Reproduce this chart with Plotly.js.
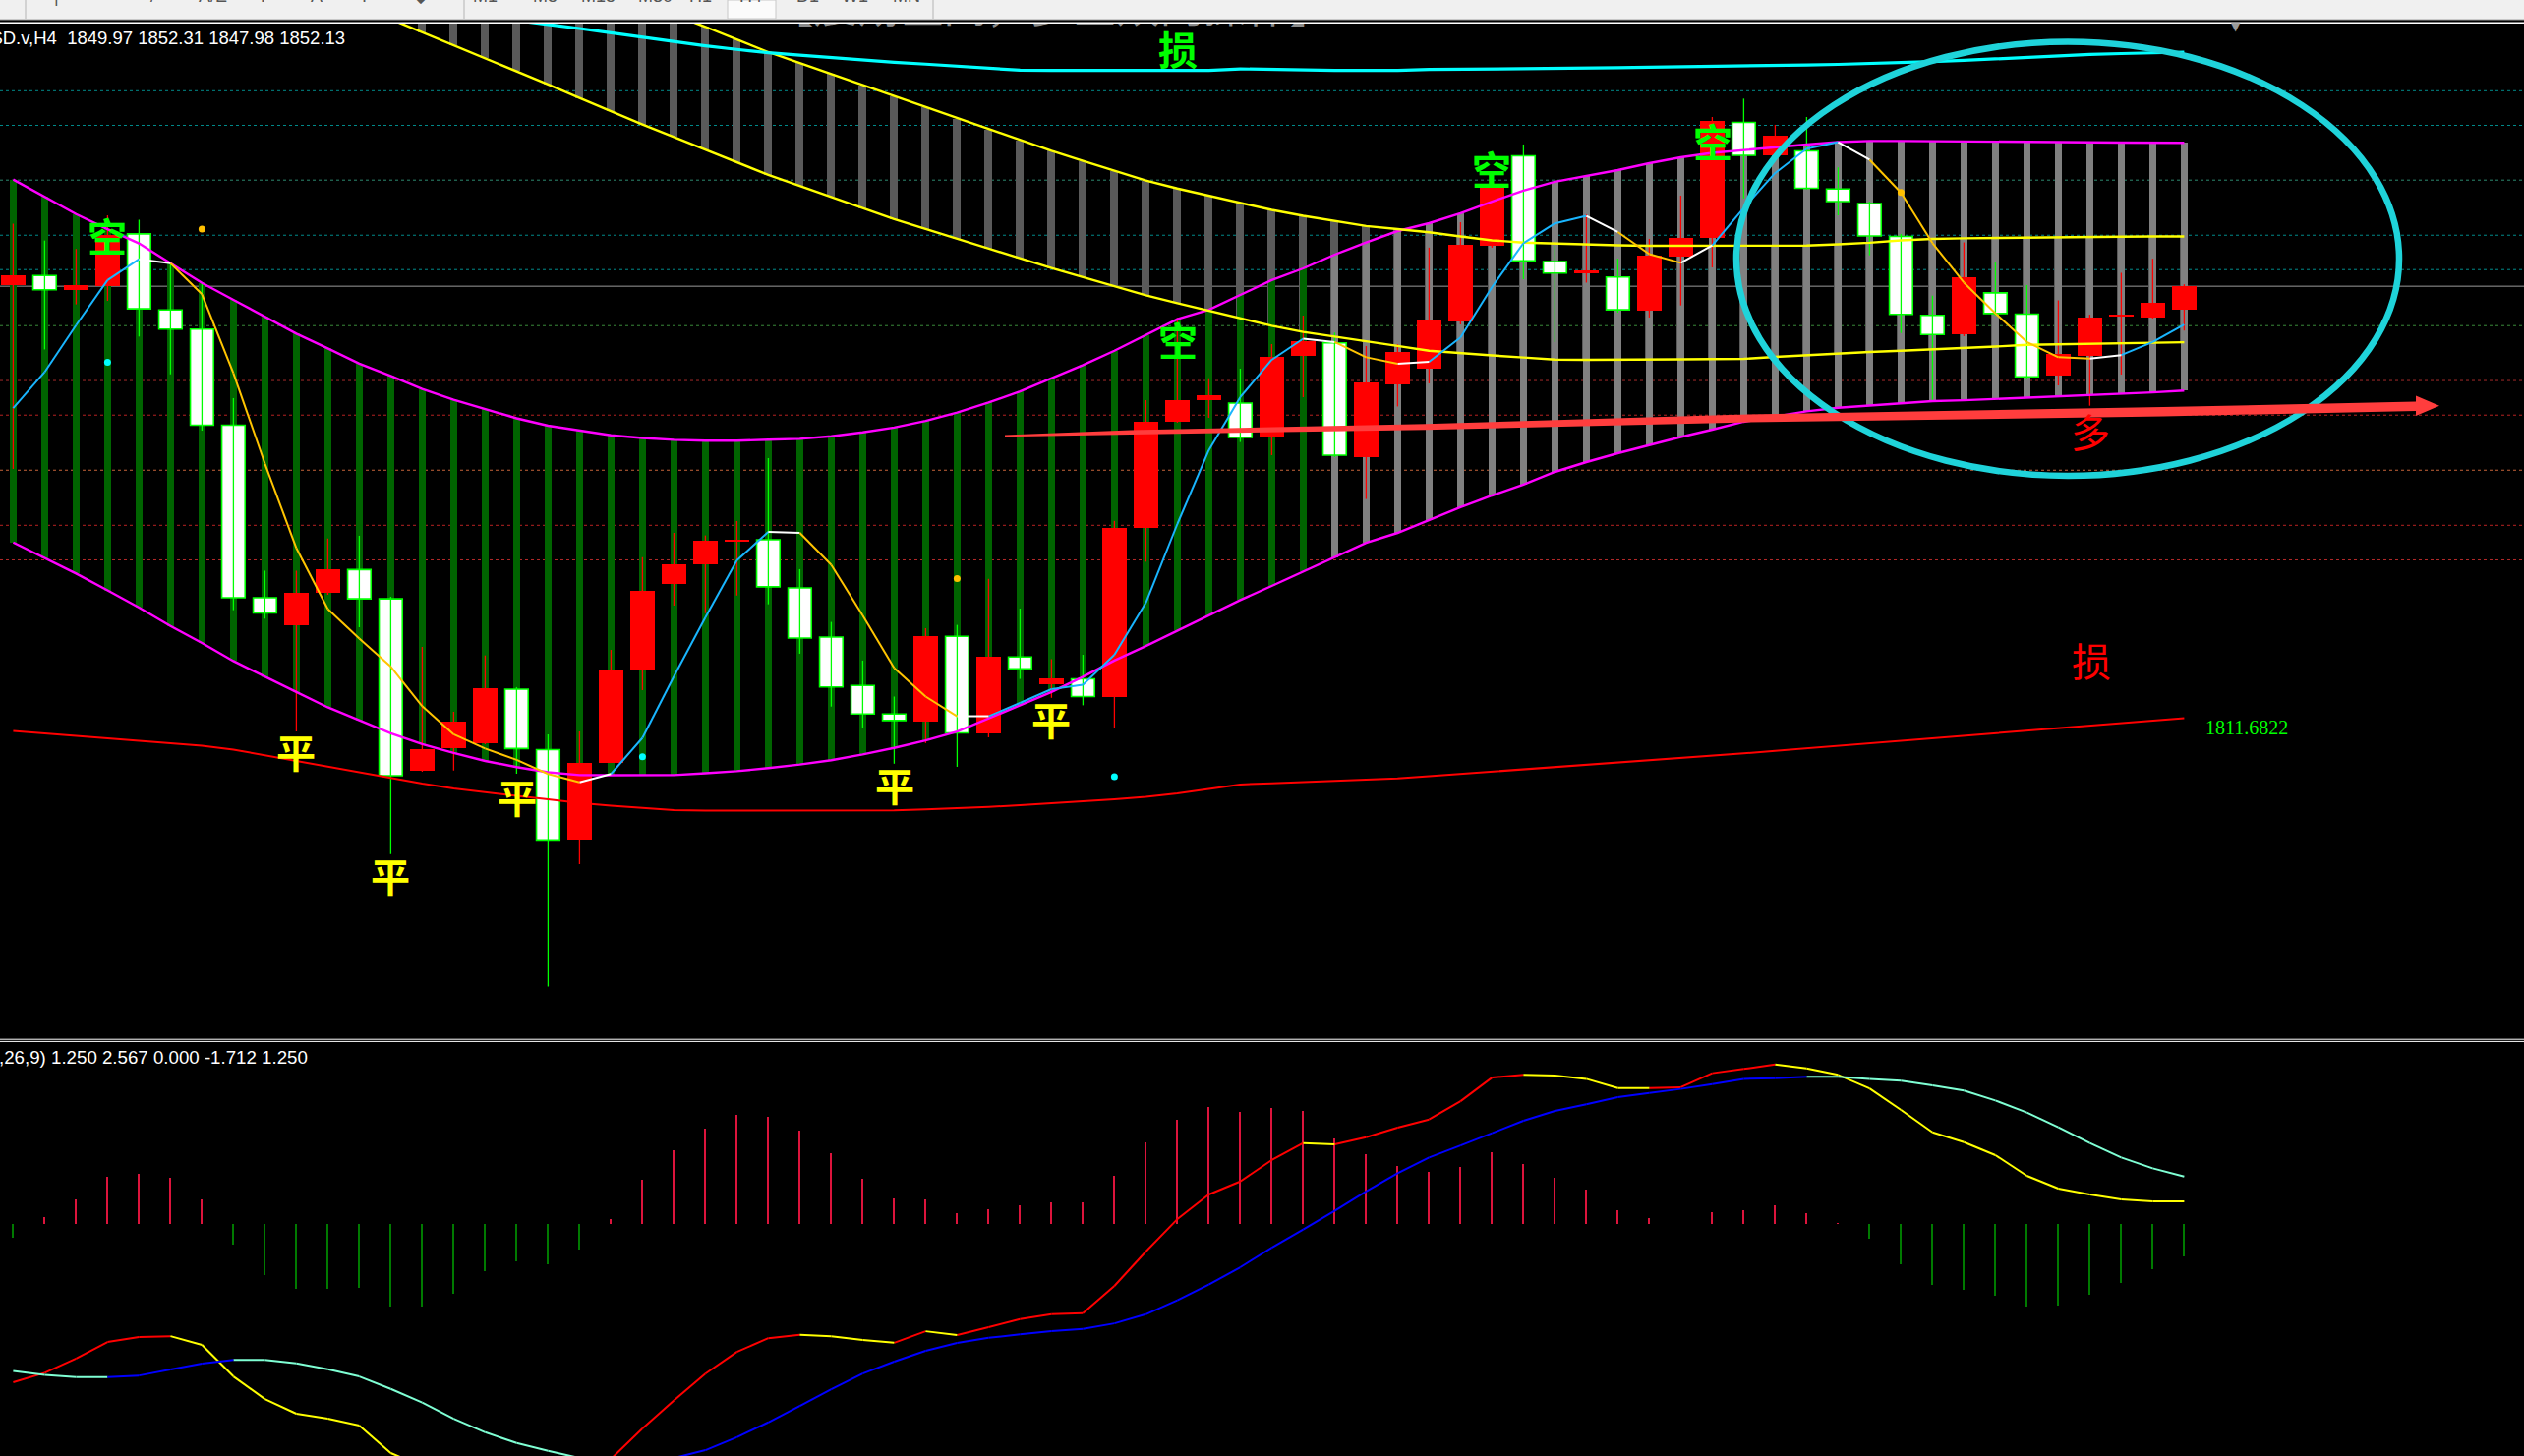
<!DOCTYPE html>
<html><head><meta charset="utf-8">
<script src="https://cdn.plot.ly/plotly-3.0.1.min.js"></script>
<style>html,body{margin:0;padding:0;background:#000;overflow:hidden}#chart{width:2567px;height:1481px}</style>
</head><body><div id="chart"></div>
<script>
const W = 2567, H = 1481;

// ---- bar index (H4 bars) ----
const barIndex = Array.from({length: 70}, (_, i) => i);

// ---- OHLC (XAUUSD H4) ----
const open = [1852.24,1853.13,1851.80,1852.13,1857.04,1849.91,1848.11,1839.12,1822.96,1820.36,
1823.37,1825.59,1822.85,1806.77,1808.83,1809.36,1814.39,1808.73,1800.27,1807.51,
1816.14,1824.26,1826.04,1828.16,1828.39,1823.88,1819.27,1814.73,1812.06,1811.36,
1819.34,1810.21,1817.40,1814.81,1815.35,1813.62,1829.53,1839.47,1841.46,1841.19,
1837.92,1845.61,1846.83,1836.10,1842.94,1844.37,1848.85,1855.96,1864.34,1854.45,
1853.37,1853.00,1849.80,1854.93,1856.66,1867.48,1864.43,1864.81,1861.24,1859.88,
1856.79,1849.40,1847.61,1851.51,1849.52,1843.74,1845.63,1849.26,1849.16,1849.97];
const high = [1857.99,1856.41,1855.62,1858.77,1858.36,1854.29,1852.33,1841.65,1825.49,1825.49,
1828.50,1828.76,1823.05,1818.35,1812.27,1817.55,1814.58,1810.16,1810.43,1818.07,
1826.75,1829.03,1828.79,1830.14,1836.03,1825.63,1820.69,1817.07,1813.70,1820.10,
1820.41,1824.72,1821.94,1817.20,1817.61,1830.15,1841.46,1849.17,1843.51,1844.41,
1846.71,1849.38,1847.79,1846.53,1846.71,1855.75,1858.13,1862.83,1865.41,1855.92,
1858.87,1854.72,1856.57,1860.62,1867.98,1869.70,1867.25,1867.98,1863.26,1860.06,
1857.03,1851.25,1856.24,1854.35,1852.24,1850.81,1849.47,1853.39,1854.71,1852.31];
const low = [1835.02,1846.21,1850.43,1850.76,1847.42,1843.88,1838.61,1821.79,1820.99,1810.43,
1823.23,1820.19,1798.95,1806.66,1806.77,1809.23,1806.47,1786.53,1798.00,1807.49,
1814.30,1822.22,1821.51,1823.16,1822.34,1817.71,1812.76,1810.71,1807.41,1809.33,
1807.12,1809.88,1815.35,1813.58,1812.88,1810.71,1826.33,1839.35,1839.81,1837.54,
1836.31,1841.74,1836.12,1832.20,1840.87,1843.03,1848.55,1855.74,1852.79,1846.91,
1852.47,1849.66,1849.20,1850.33,1853.89,1860.36,1864.21,1861.17,1858.77,1855.03,
1847.75,1841.41,1847.45,1849.38,1843.49,1842.84,1840.94,1843.86,1849.11,1847.98];
const close = [1853.19,1851.80,1852.28,1856.93,1850.01,1848.11,1839.12,1822.96,1821.52,1823.37,
1825.64,1822.85,1806.29,1808.78,1811.37,1814.49,1808.83,1800.27,1807.51,1816.23,
1823.64,1826.11,1828.30,1828.34,1823.98,1819.18,1814.60,1812.06,1811.45,1819.37,
1810.29,1817.40,1816.29,1815.43,1813.70,1829.53,1839.47,1841.46,1841.94,1837.96,
1845.56,1846.99,1836.31,1843.09,1846.01,1848.98,1856.04,1861.63,1854.52,1853.37,
1853.46,1849.92,1855.02,1856.66,1867.57,1864.39,1866.23,1861.30,1860.06,1856.84,
1849.49,1847.61,1852.97,1849.58,1843.65,1845.77,1849.17,1849.33,1850.58,1852.13];

// ---- magenta envelope (upper / lower) ----
const envUpper = [1862.12,1860.48,1858.89,1857.47,1856.14,1854.29,1852.44,1850.86,1849.27,1847.69,
1846.31,1844.88,1843.72,1842.50,1841.50,1840.65,1839.76,1839.07,1838.59,1838.17,
1837.91,1837.74,1837.67,1837.67,1837.75,1837.84,1838.08,1838.45,1838.90,1839.52,
1840.30,1841.24,1842.27,1843.51,1844.74,1846.09,1847.54,1849.05,1849.93,1851.32,
1852.70,1853.80,1855.09,1856.22,1857.30,1858.04,1858.96,1860.06,1861.08,1861.91,
1862.46,1863.01,1863.65,1864.21,1864.62,1864.90,1865.13,1865.40,1865.63,1865.74,
1865.74,1865.73,1865.70,1865.68,1865.66,1865.63,1865.61,1865.59,1865.57,1865.56];
const envLower = [1828.13,1826.64,1825.22,1823.64,1822.04,1820.30,1818.72,1817.02,1815.54,1814.12,
1812.69,1811.47,1810.26,1809.25,1808.41,1807.67,1807.09,1806.61,1806.34,1806.33,
1806.32,1806.34,1806.51,1806.71,1807.00,1807.33,1807.74,1808.28,1808.89,1809.59,
1810.41,1811.63,1812.88,1814.12,1815.55,1817.07,1818.43,1819.87,1821.31,1822.74,
1824.06,1825.42,1826.73,1828.09,1829.03,1830.23,1831.43,1832.53,1833.55,1834.74,
1835.66,1836.49,1837.26,1838.01,1838.70,1839.44,1839.93,1840.42,1840.75,1840.96,
1841.16,1841.37,1841.45,1841.57,1841.66,1841.78,1841.91,1842.03,1842.19,1842.36];
const envTrendUpFrom = 42; // envelope columns turn grey from this bar

// ---- yellow band (lower / upper) ----
const N = null;
const bandLower = [N,N,N,N,N,N,N,N,N,N,
N,N,1877.14,1875.93,1874.72,1873.52,1872.29,1871.03,1869.77,1868.51,
1867.29,1866.10,1864.92,1863.73,1862.56,1861.52,1860.48,1859.45,1858.42,1857.49,
1856.56,1855.63,1854.70,1853.84,1852.98,1852.13,1851.28,1850.55,1849.84,1849.14,
1848.42,1847.85,1847.39,1846.94,1846.54,1846.09,1845.84,1845.65,1845.46,1845.26,
1845.24,1845.24,1845.26,1845.28,1845.31,1845.33,1845.51,1845.68,1845.86,1845.97,
1846.09,1846.21,1846.34,1846.48,1846.64,1846.70,1846.76,1846.82,1846.86,1846.88];
const bandUpper = [N,N,N,N,N,N,N,N,N,N,
N,N,N,1886.95,1885.66,1884.46,1883.27,1882.07,1880.97,1879.77,
1878.66,1877.60,1876.43,1875.24,1874.06,1873.03,1872.00,1870.97,1869.93,1868.88,
1867.84,1866.81,1865.77,1864.81,1863.88,1862.95,1862.03,1861.28,1860.60,1859.94,
1859.28,1858.73,1858.25,1857.77,1857.49,1857.19,1856.79,1856.43,1856.22,1856.12,
1856.02,1855.97,1855.92,1855.92,1855.92,1855.92,1855.92,1855.94,1856.06,1856.21,
1856.43,1856.56,1856.62,1856.66,1856.69,1856.72,1856.75,1856.77,1856.79,1856.79];

// ---- cyan line (top) ----
const cyanLine = [N,N,N,N,N,N,N,N,N,N,
N,N,N,N,N,N,1877.02,1876.67,1876.27,1875.86,
1875.44,1875.03,1874.65,1874.31,1874.00,1873.77,1873.54,1873.32,1873.11,1872.93,
1872.74,1872.56,1872.36,1872.34,1872.34,1872.34,1872.34,1872.34,1872.34,1872.49,
1872.43,1872.34,1872.34,1872.34,1872.34,1872.43,1872.45,1872.47,1872.49,1872.54,
1872.56,1872.59,1872.65,1872.68,1872.74,1872.77,1872.80,1872.86,1872.91,1872.98,
1873.09,1873.18,1873.28,1873.42,1873.60,1873.76,1873.85,1873.92,1874.00,1874.06];

// ---- slow red MA ----
const slowMA = [1810.48,1810.25,1810.02,1809.79,1809.55,1809.33,1809.09,1808.73,1808.19,1807.67,
1807.14,1806.61,1806.08,1805.55,1805.09,1804.72,1804.40,1804.08,1803.74,1803.48,
1803.25,1803.07,1803.02,1803.02,1803.02,1803.02,1803.02,1803.02,1803.03,1803.13,
1803.22,1803.36,1803.53,1803.68,1803.89,1804.08,1804.31,1804.63,1805.05,1805.46,
1805.58,1805.68,1805.78,1805.87,1806.03,1806.24,1806.45,1806.67,1806.88,1807.09,
1807.30,1807.51,1807.73,1807.95,1808.16,1808.38,1808.62,1808.86,1809.10,1809.34,
1809.58,1809.82,1810.05,1810.29,1810.53,1810.77,1811.01,1811.25,1811.46,1811.6822];

// ---- fast colour MA ----
const fastMA = [1840.71,1844.09,1848.48,1852.71,1854.66,1854.29,1851.38,1843.99,1835.52,1827.60,
1821.89,1819.14,1816.50,1812.80,1810.16,1808.83,1807.77,1806.45,1805.66,1806.45,
1809.83,1815.59,1821.11,1826.45,1829.12,1829.03,1826.04,1821.30,1816.37,1813.70,
1811.85,1811.85,1813.10,1814.39,1814.81,1817.61,1822.49,1829.86,1836.77,1841.74,
1845.24,1847.22,1846.90,1845.48,1844.87,1845.05,1847.33,1852.05,1856.17,1858.02,
1858.72,1857.21,1855.14,1854.32,1855.96,1859.46,1862.74,1865.01,1865.63,1863.98,
1860.89,1856.17,1852.47,1849.59,1846.91,1845.48,1845.36,1845.68,1846.91,1848.55];

// ---- signal dots ----
const goldDotBars = [6, 30, 60];
const goldDotPrice = [1857.49, 1824.75, 1860.91];
const cyanDotBars = [3, 20, 35];
const cyanDotPrice = [1845.01, 1808.06, 1806.20];

// ---- horizontal levels ----
const levelPrices = [1870.44,1867.20,1862.07,1856.91,1853.69,1848.44,1843.30,1840.06,1834.90,1829.74,1826.50];
const levelColors = ['#008b8b','#008b8b','#2e8b72','#008b8b','#008b8b','#3a8a3a','#a52a2a','#b82222','#c8643a','#b82222','#b52a2a'];
const bidPrice = 1852.13;

// ---- MACD(12,26,9) ----
const macdHist = [-0.77,0.36,1.33,2.56,2.73,2.51,1.33,-1.15,-2.81,-3.55,
-3.55,-3.51,-4.52,-4.52,-3.83,-2.60,-2.04,-2.20,-1.40,0.28,
2.40,4.02,5.20,5.95,5.84,5.09,3.85,2.46,1.38,1.33,
0.58,0.79,1.01,1.17,1.17,2.62,4.45,5.68,6.38,6.11,
6.33,6.17,4.66,3.80,3.16,2.83,3.10,3.91,3.26,2.51,
1.87,0.74,0.31,-0.04,0.63,0.74,1.01,0.58,0.04,-0.82,
-2.22,-3.35,-3.62,-3.94,-4.53,-4.48,-3.89,-3.24,-2.49,-1.79];
const macdLine = [-8.67,-8.15,-7.37,-6.47,-6.20,-6.15,-6.63,-8.35,-9.59,-10.39,
-10.66,-11.03,-12.54,-13.26,-13.61,-13.40,-13.56,-14.11,-13.89,-12.86,
-11.20,-9.66,-8.20,-7.01,-6.26,-6.08,-6.15,-6.36,-6.51,-5.88,
-6.09,-5.66,-5.22,-4.95,-4.89,-3.40,-1.52,0.25,1.60,2.31,
3.48,4.41,4.34,4.73,5.25,5.70,6.70,7.99,8.14,8.10,
7.92,7.42,7.42,7.46,8.23,8.46,8.71,8.49,8.14,7.40,
6.22,5.00,4.46,3.75,2.62,1.92,1.60,1.33,1.22,1.22];
const signalLine = [-8.05,-8.26,-8.39,-8.39,-8.30,-7.97,-7.65,-7.44,-7.44,-7.63,
-7.96,-8.35,-9.03,-9.78,-10.66,-11.40,-11.99,-12.42,-12.81,-13.08,
-13.03,-12.81,-12.38,-11.67,-10.86,-9.96,-9.05,-8.19,-7.54,-6.95,
-6.52,-6.24,-6.05,-5.88,-5.75,-5.45,-4.95,-4.19,-3.33,-2.38,
-1.31,-0.32,0.70,1.77,2.76,3.62,4.28,4.95,5.63,6.17,
6.53,6.92,7.15,7.37,7.63,7.92,7.96,8.03,8.03,7.92,
7.82,7.56,7.28,6.74,6.08,5.27,4.41,3.62,3.03,2.58];

// ================= drawing =================
const P = px => px / W;          // pixel x -> paper
const Q = py => 1 - py / H;      // pixel y -> paper
const xr = [-13.4/32, -13.4/32 + W/32];
const traces = [];
const skip = {hoverinfo: 'skip'};

// yellow band columns (dark grey)
const bIdx = barIndex.filter(i => bandUpper[i] != null && bandLower[i] != null);
traces.push(Object.assign({type:'bar', x:bIdx, base:bIdx.map(i=>bandLower[i]),
  y:bIdx.map(i=>bandUpper[i]-bandLower[i]), width:0.25,
  marker:{color:'#5a5a5a', line:{width:0}}}, skip));
// envelope columns
traces.push(Object.assign({type:'bar', x:barIndex, base:envLower,
  y:barIndex.map(i=>envUpper[i]-envLower[i]), width:0.24,
  marker:{color:barIndex.map(i=> i < envTrendUpFrom ? '#006400' : '#808080'), line:{width:0}}}, skip));

// candles
const bull = barIndex.filter(i => close[i] > open[i]);
const bear = barIndex.filter(i => close[i] <= open[i]);
function wicks(idx){ const x=[], y=[]; idx.forEach(i=>{x.push(i,i,null); y.push(low[i],high[i],null);}); return {x,y}; }
const wb = wicks(bull), wr = wicks(bear);
traces.push(Object.assign({type:'scatter', mode:'lines', x:wb.x, y:wb.y, line:{color:'#ff0000', width:1.3}}, skip));
traces.push(Object.assign({type:'scatter', mode:'lines', x:wr.x, y:wr.y, line:{color:'#00ff00', width:1.3}}, skip));
const minBody = 0.25;
traces.push(Object.assign({type:'bar', x:bull, base:bull.map(i=>open[i]),
  y:bull.map(i=>Math.max(close[i]-open[i], minBody)), width:0.78,
  marker:{color:'#ff0000', line:{width:0}}}, skip));
traces.push(Object.assign({type:'bar', x:bear, base:bear.map(i=>close[i]),
  y:bear.map(i=>Math.max(open[i]-close[i], minBody)), width:0.74,
  marker:{color:'#ffffff', line:{color:'#00ff00', width:1.6}}}, skip));

// indicator lines
function line(y, color, width){ return Object.assign({type:'scatter', mode:'lines', x:barIndex, y, line:{color, width}, connectgaps:false}, skip); }
traces.push(line(envUpper, '#ff00ff', 2.4));
traces.push(line(envLower, '#ff00ff', 2.4));
traces.push(line(bandLower, '#ffff00', 2.4));
traces.push(line(bandUpper, '#ffff00', 2.4));
traces.push(line(cyanLine, '#00ffff', 3.2));
traces.push(line(slowMA, '#ff0000', 2));

// segmented colour lines
function segTraces(ys, colorFn, width, xa, ya){
  const groups = {};
  for (let i = 1; i < ys.length; i++){
    if (ys[i] == null || ys[i-1] == null) continue;
    const c = colorFn(i);
    groups[c] = groups[c] || {x:[], y:[]};
    groups[c].x.push(barIndex[i-1], barIndex[i], null);
    groups[c].y.push(ys[i-1], ys[i], null);
  }
  return Object.entries(groups).map(([c,g]) => Object.assign({type:'scatter', mode:'lines', x:g.x, y:g.y,
    xaxis:xa, yaxis:ya, line:{color:c, width}}, skip));
}
function maColor(i){
  const d = fastMA[i] - fastMA[i-1];
  const dp = i > 1 ? fastMA[i-1] - fastMA[i-2] : d;
  if (Math.abs(d) < 1e-9) return '#ffffff';
  if (Math.abs(dp) > 1e-9 && Math.sign(d) !== Math.sign(dp)) return '#ffffff';
  return d > 0 ? '#19b5fe' : '#ffc400';
}
segTraces(fastMA, maColor, 2, 'x', 'y').forEach(t => traces.push(t));

// dots
traces.push(Object.assign({type:'scatter', mode:'markers', x:goldDotBars, y:goldDotPrice, marker:{color:'#ffc000', size:7}}, skip));
traces.push(Object.assign({type:'scatter', mode:'markers', x:cyanDotBars, y:cyanDotPrice, marker:{color:'#00ffff', size:7}}, skip));

// clipped chart title under the toolbar
traces.push(Object.assign({type:'scatter', mode:'text', x:[33], y:[1877.84], text:['【震荡区间，多空双向操作】'],
  textposition:'middle center', cliponaxis:true,
  textfont:{family:'Noto Sans CJK SC', size:44, color:'#8a8a8a'}}, skip));

// MACD panel
traces.push(Object.assign({type:'bar', x:barIndex, y:macdHist, xaxis:'x2', yaxis:'y2', width:0.06,
  marker:{color:macdHist.map(v => v >= 0 ? '#dc143c' : '#007a00'), line:{width:0}}}, skip));
segTraces(macdLine, i => macdLine[i] > macdLine[i-1] ? '#ff0000' : '#ffff00', 2, 'x2', 'y2').forEach(t => traces.push(t));
segTraces(signalLine, i => signalLine[i] > signalLine[i-1] ? '#0000ff' : '#7fffd4', 2, 'x2', 'y2').forEach(t => traces.push(t));

// ---------- shapes ----------
const shapes = [];
levelPrices.forEach((p, k) => shapes.push({type:'line', xref:'paper', x0:0, x1:1, yref:'y', y0:p, y1:p,
  line:{color:levelColors[k], width:1, dash:'3px,3px'}, layer:'below'}));
shapes.push({type:'line', xref:'paper', x0:0, x1:1, yref:'y', y0:bidPrice, y1:bidPrice,
  line:{color:'#9a9a9a', width:1}, layer:'below'});

// toolbar & separators
shapes.push({type:'rect', xref:'paper', yref:'paper', x0:0, x1:1, y0:Q(20), y1:1, fillcolor:'#f0f0f0', line:{width:0}, layer:'above'});
shapes.push({type:'line', xref:'paper', yref:'paper', x0:0, x1:1, y0:Q(20), y1:Q(20), line:{color:'#a0a0a0', width:1.2}, layer:'above'});
shapes.push({type:'line', xref:'paper', yref:'paper', x0:0, x1:1, y0:Q(23.3), y1:Q(23.3), line:{color:'#ffffff', width:1.6}, layer:'above'});
[26, 472, 949].forEach(px => shapes.push({type:'line', xref:'paper', yref:'paper', x0:P(px), x1:P(px), y0:Q(19), y1:1, line:{color:'#b4b4b4', width:1}, layer:'above'}));
shapes.push({type:'rect', xref:'paper', yref:'paper', x0:P(740), x1:P(789), y0:Q(19), y1:1, fillcolor:'#fbfbfb', line:{color:'#c8c8c8', width:1}, layer:'above'});
shapes.push({type:'line', xref:'paper', yref:'paper', x0:0, x1:1, y0:Q(1057.2), y1:Q(1057.2), line:{color:'#ffffff', width:1}, layer:'above'});
shapes.push({type:'line', xref:'paper', yref:'paper', x0:0, x1:1, y0:Q(1059.4), y1:Q(1059.4), line:{color:'#ffffff', width:1}, layer:'above'});

// cyan ellipse
shapes.push({type:'circle', xref:'paper', yref:'paper', x0:P(1766), x1:P(2440), y0:Q(484), y1:Q(42.5),
  line:{color:'#1fd3da', width:6.5}, fillcolor:'rgba(0,0,0,0)', layer:'above'});
// red arrow
const arrowPts = [[1022,442.4],[1150,437.4],[1450,431.3],[1759,421.9],[2200,414.0],[2457,408.6],[2457,402.4],
  [2481,412.7],[2457,423.0],[2457,418.0],[2200,423.5],[1759,429.9],[1450,437.3],[1150,442.0],[1022,444.2]];
shapes.push({type:'path', xref:'paper', yref:'paper',
  path:'M ' + arrowPts.map(p => P(p[0]) + ',' + Q(p[1])).join(' L ') + ' Z',
  fillcolor:'#ff3d3d', line:{width:0}, layer:'above'});

// ---------- annotations ----------
const ann = [];
function label(text, px, py, color, size, bold, family, anchor){
  ann.push({xref:'paper', yref:'paper', x:P(px), y:Q(py), text, showarrow:false,
    xanchor:anchor || 'center', yanchor:'middle',
    font:{family: family || 'Noto Sans CJK SC', size, color, weight: bold ? 'bold' : 'normal'}});
}
[[109,239],[1198,344.5],[1517,171],[1742,143]].forEach(p => label('空', p[0], p[1], '#00ff00', 40, true));
[[301,764],[397,890.5],[526,810],[909.7,797.8],[1069,731]].forEach(p => label('平', p[0], p[1], '#ffff00', 40, true));
label('损', 1197.5, 48.5, '#00ff00', 40, true);
label('多', 2126, 438, '#ff0000', 40, false);
label('损', 2127, 671, '#ff0000', 40, false);
label('1811.6822', 2241, 740, '#00ff00', 20, false, 'Liberation Serif', 'left');
label('XAUUSD.v,H4\u00a0\u00a01849.97 1852.31 1847.98 1852.13', 353, 38.3, '#ffffff', 18.5, false, 'Liberation Sans', 'right');
label('MACD(12,26,9) 1.250 2.567 0.000 -1.712 1.250', 315, 1075.7, '#ffffff', 18.7, false, 'Liberation Sans', 'right');
label('▼', 2274, 27, '#9a9a9a', 12, false, 'DejaVu Sans');
const tfLabels = ['M1','M5','M15','M30','H1','H4','D1','W1','MN'];
const tfX = [494, 554, 608, 666, 712, 763, 821, 869, 922];
tfLabels.forEach((t, k) => label(t, tfX[k], -4, '#555555', 18, false, 'Liberation Sans'));
[[57,'|'],[155,'/'],[216,'A/E'],[270,'F'],[322,'A'],[370,'T'],[428,'◆']].forEach(p => label(p[1], p[0], -4, '#555555', 18, false, 'Liberation Sans'));

const layout = {
  width:W, height:H, margin:{l:0, r:0, t:0, b:0, pad:0},
  paper_bgcolor:'#000000', plot_bgcolor:'#000000',
  showlegend:false, hovermode:false, barmode:'overlay', bargap:0,
  xaxis:{domain:[0,1], range:xr, visible:false, fixedrange:true, anchor:'y'},
  yaxis:{domain:[1-1056/H, 1-24/H], range:[1781.70, 1876.73], visible:false, fixedrange:true, anchor:'x'},
  xaxis2:{domain:[0,1], range:xr, visible:false, fixedrange:true, anchor:'y2'},
  yaxis2:{domain:[0, 1-1060/H], range:[-12.70, 9.93], visible:false, fixedrange:true, anchor:'x2'},
  shapes, annotations:ann
};
Plotly.newPlot('chart', traces, layout, {staticPlot:true, displayModeBar:false});
</script>
</body></html>
